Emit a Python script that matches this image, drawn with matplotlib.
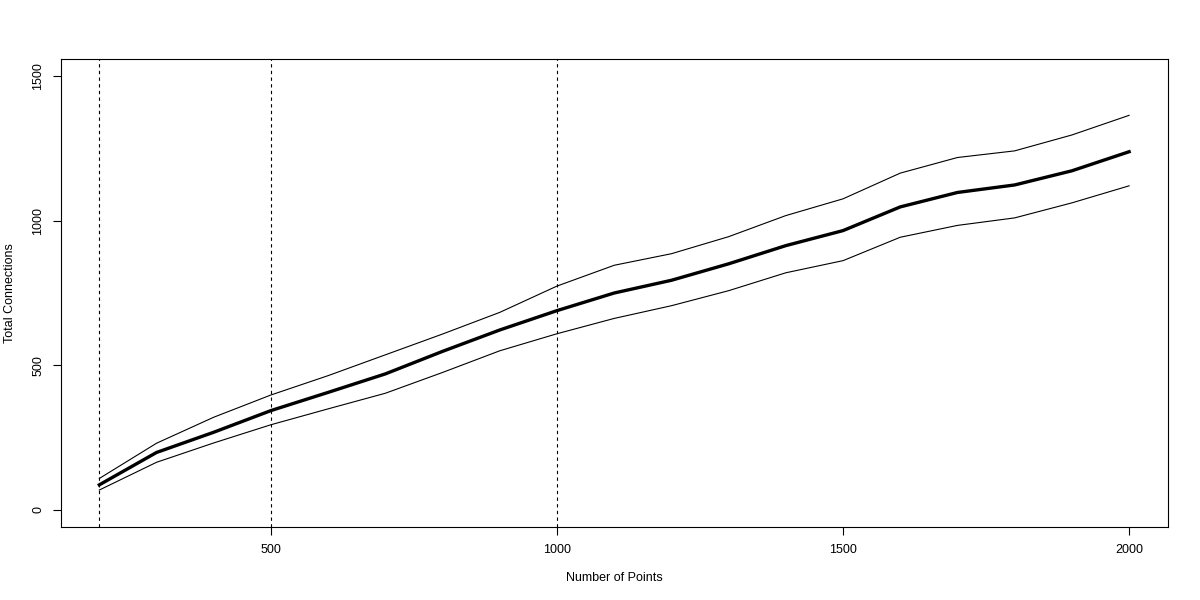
import matplotlib
matplotlib.use("Agg")
import matplotlib.pyplot as plt

# values (R base plot)
n_points = [200, 300, 400, 500, 600, 700, 800, 900, 1000, 1100,
            1200, 1300, 1400, 1500, 1600, 1700, 1800, 1900, 2000]
mean_conn = [86, 198, 268, 343, 406, 470, 548, 622, 689, 750,
             794, 851, 914, 966, 1048, 1098, 1124, 1173, 1239]
upper_conn = [108, 230, 320, 397, 464, 536, 608, 683, 774, 846,
              886, 945, 1018, 1076, 1165, 1219, 1242, 1297, 1365]
lower_conn = [68, 164, 231, 294, 349, 403, 475, 550, 609, 662,
              706, 758, 820, 862, 943, 984, 1010, 1062, 1121]
marks = [200, 500, 1000]
x_ticks = [500, 1000, 1500, 2000]
y_ticks = [0, 500, 1000, 1500]

plt.rcParams.update({"font.family": ["Liberation Sans", "DejaVu Sans"],
                     "font.size": 9})

fig = plt.figure(figsize=(12, 6), dpi=100)
ax = fig.add_axes([61 / 1200, 1 - 527 / 600, 1107 / 1200, 468 / 600])

ax.plot(n_points, mean_conn, color="black", lw=2.4, solid_joinstyle="round")
ax.plot(n_points, upper_conn, color="black", lw=0.8)
ax.plot(n_points, lower_conn, color="black", lw=0.8)
for m in marks:
    ax.axvline(m, color="black", lw=0.8, ls=(0, (3, 3)))

ax.set_xlim(133, 2068)
ax.set_ylim(-60, 1560)
ax.set_xticks(x_ticks)
ax.set_yticks(y_ticks)
ax.set_yticklabels([str(v) for v in y_ticks], rotation=90, va="center")
ax.tick_params(length=6, width=0.8)
ax.tick_params(axis="x", pad=6)
ax.tick_params(axis="y", pad=6)
for s in ax.spines.values():
    s.set_linewidth(0.8)

ax.set_xlabel("Number of Points")
ax.set_ylabel("Total Connections", va="center")
ax.xaxis.set_label_coords(0.5, -0.096)
ax.yaxis.set_label_coords(-0.046, 0.5)

fig.savefig("out.png", dpi=100, facecolor="white")
